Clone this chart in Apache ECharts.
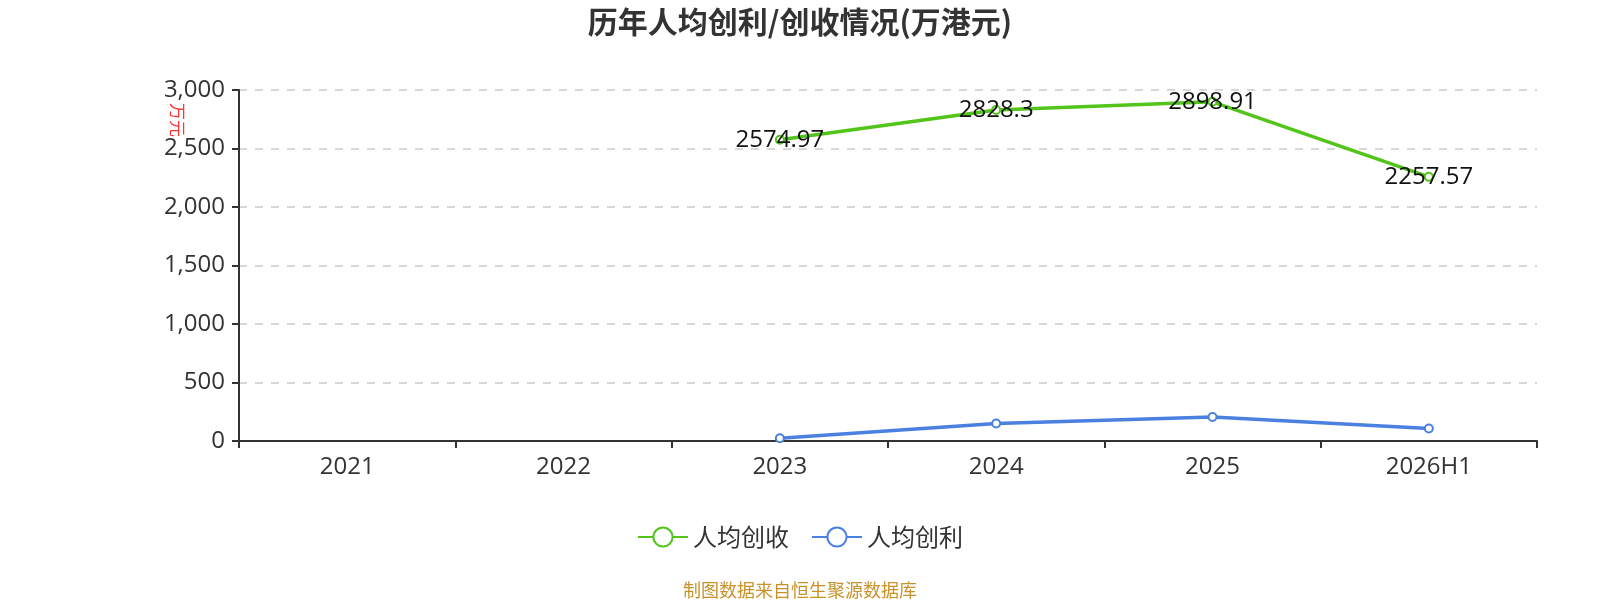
<!DOCTYPE html>
<html>
<head>
<meta charset="utf-8">
<script src="https://cdn.jsdelivr.net/npm/echarts@6/dist/echarts.min.js"></script>
<style>
  html, body { margin: 0; padding: 0; background: #fff; }
  #main { width: 1600px; height: 600px; }
</style>
</head>
<body>
<div id="main"></div>
<script>
const categories = ['2021', '2022', '2023', '2024', '2025', '2026H1']
const revenuePerHead = [null, null, 2574.97, 2828.3, 2898.91, 2257.57]
const profitPerHead = [null, null, 23, 150, 205, 107]
const yTicks = [0, 500, 1000, 1500, 2000, 2500, 3000]

const font = '"Open Sans", "Noto Sans CJK SC", sans-serif'
const cjk = '"Noto Sans CJK SC", sans-serif'
const chart = echarts.init(document.getElementById('main'))

chart.setOption({
  textStyle: { fontFamily: font },
  title: {
    text: '历年人均创利/创收情况(万港元)',
    left: 'center',
    top: 2,
    textStyle: { fontSize: 30, fontWeight: 'bold', color: '#333', fontFamily: cjk }
  },
  grid: { left: 239, right: 63, top: 90, bottom: 159 },
  legend: {
    bottom: 46,
    itemWidth: 50,
    itemHeight: 24,
    itemGap: 22,
    textStyle: { fontSize: 24, color: '#333', fontFamily: cjk },
    data: ['人均创收', '人均创利']
  },
  graphic: [{
    type: 'text',
    x: 177,
    y: 120,
    rotation: -Math.PI / 2,
    style: { text: '万元', fontSize: 17, fill: '#ff3333', fontFamily: cjk, align: 'center', verticalAlign: 'middle' }
  }, {
    type: 'text',
    left: 'center',
    bottom: 1,
    style: { text: '制图数据来自恒生聚源数据库', fontSize: 18, fill: '#c8922a', fontFamily: cjk }
  }],
  xAxis: {
    type: 'category',
    data: categories,
    boundaryGap: true,
    axisLine: { lineStyle: { color: '#333', width: 2 } },
    axisTick: { show: true, length: 7, lineStyle: { color: '#333', width: 2 } },
    axisLabel: { fontSize: 24, color: '#333', margin: 14 }
  },
  yAxis: {
    type: 'value',
    min: yTicks[0],
    max: yTicks[yTicks.length - 1],
    interval: 500,
    axisLine: { show: true, lineStyle: { color: '#333', width: 2 } },
    axisTick: { show: true, length: 7, lineStyle: { color: '#333', width: 2 } },
    axisLabel: { fontSize: 24, color: '#333', margin: 14 },
    splitLine: { lineStyle: { type: [8, 8], color: '#ccc', width: 1.5 } }
  },
  series: [{
    name: '人均创收',
    type: 'line',
    data: revenuePerHead,
    symbol: 'emptyCircle',
    symbolSize: 8,
    itemStyle: { color: '#52c41a' },
    lineStyle: { width: 3.5, color: '#52c41a' },
    label: { show: true, position: 'inside', fontSize: 24, color: '#111' }
  }, {
    name: '人均创利',
    type: 'line',
    data: profitPerHead,
    symbol: 'emptyCircle',
    symbolSize: 8,
    itemStyle: { color: '#4a80e0' },
    lineStyle: { width: 3.5, color: '#4a80e0' }
  }]
})
</script>
</body>
</html>
